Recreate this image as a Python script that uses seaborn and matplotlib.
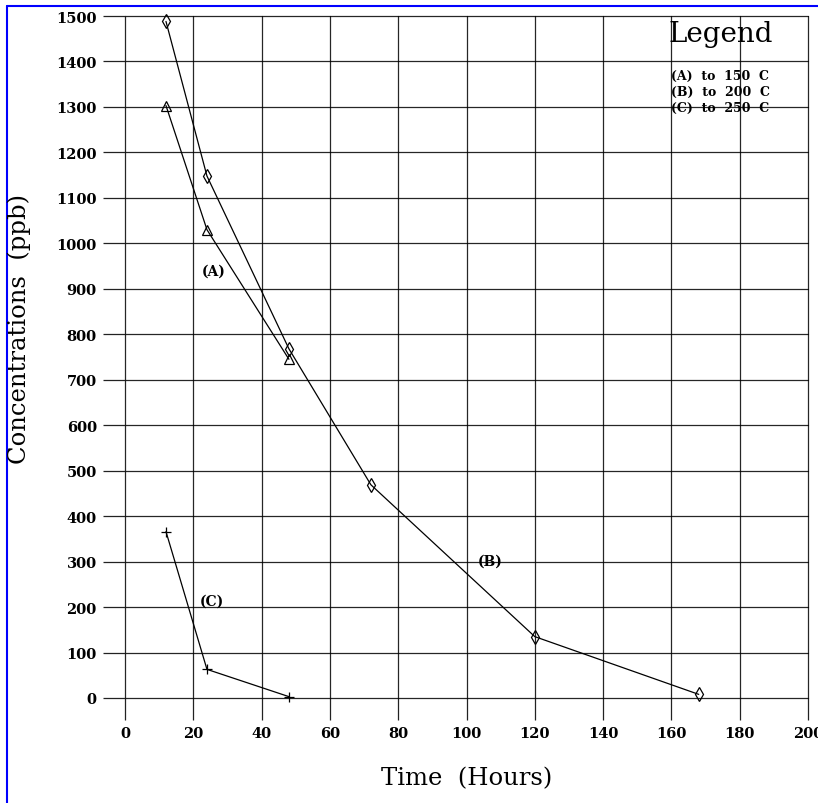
import matplotlib
matplotlib.use("Agg")
import matplotlib.pyplot as plt
import seaborn as sns
import pandas as pd
from matplotlib.lines import Line2D

sns.set_theme(style="white")
plt.rcParams['font.family'] = ['DejaVu Serif']
plt.rcParams['text.color'] = 'black'
plt.rcParams['xtick.color'] = 'black'
plt.rcParams['ytick.color'] = 'black'

# Data
time_a = [12, 24, 48]
conc_a = [1303, 1030, 745]
time_b = [12, 24, 48, 72, 120, 168]
conc_b = [1488, 1148, 768, 469, 135, 8]
time_c = [12, 24, 48]
conc_c = [366, 63, 3]

x_ticks = list(range(0, 201, 20))
y_ticks = list(range(0, 1501, 100))
legend_lines = ["(A)  to  150  C", "(B)  to  200  C", "(C)  to  250  C"]
series_labels = ["(A)", "(B)", "(C)"]
label_pos_x = [26, 107, 25.5]
label_pos_y = [940, 301, 215]

W, H = 818, 804
fig = plt.figure(figsize=(W / 100, H / 100), dpi=100)
ax = fig.add_axes([125 / W, 1 - 699 / H, (808 - 125) / W, (699 - 17) / H])

df_a = pd.DataFrame({"t": time_a, "c": conc_a})
df_b = pd.DataFrame({"t": time_b, "c": conc_b})
df_c = pd.DataFrame({"t": time_c, "c": conc_c})

common = dict(ax=ax, color="black", linewidth=0.9, markersize=7,
              markeredgewidth=0.9, zorder=3, clip_on=False)
sns.lineplot(data=df_a, x="t", y="c", marker="^", markerfacecolor="none",
             markeredgecolor="black", **common)
sns.lineplot(data=df_b, x="t", y="c", marker="d", markerfacecolor="none",
             markeredgecolor="black", **common)
sns.lineplot(data=df_c, x="t", y="c", marker="+", markeredgecolor="black", **common)

ax.set_xlim(0, 200)
ax.set_ylim(0, 1500)
ax.set_xticks(x_ticks)
ax.set_yticks(y_ticks)
ax.grid(True, color="black", linewidth=0.9, alpha=0.85)
for gl in ax.get_xgridlines() + ax.get_ygridlines():
    gl.set_clip_on(False)
for s in ax.spines.values():
    s.set_visible(False)
ax.tick_params(axis="both", bottom=True, left=True, length=16, width=0.9,
               color="#222222", labelcolor="black", labelsize=10.5, pad=4.3,
               direction="out")
for lab in ax.get_xticklabels() + ax.get_yticklabels():
    lab.set_fontweight("bold")
    lab.set_family("DejaVu Serif")

ax.set_xlabel("")
ax.set_ylabel("")
fig.text(467 / W, 1 - 779 / H, "Time  (Hours)", fontsize=17.5, ha="center",
         va="center", family="DejaVu Serif", color="black")
fig.text(19 / W, 1 - 329 / H, "Concentrations  (ppb)", fontsize=17.5, ha="center",
         va="center", rotation=90, family="DejaVu Serif", color="black")

for lbl, lx, ly in zip(series_labels, label_pos_x, label_pos_y):
    ax.text(lx, ly, lbl, fontsize=10, fontweight="bold", ha="center", va="center",
            family="DejaVu Serif", color="black")

# Legend block
fig.text(721 / W, 1 - 35 / H, "Legend", fontsize=20, ha="center", va="center",
         family="DejaVu Serif", color="black")
for i, line in enumerate(legend_lines):
    fig.text(671 / W, 1 - (76 + i * 16) / H, line, fontsize=9, fontweight="bold",
             ha="left", va="center", family="DejaVu Serif", color="black")

# Blue frame
fig.add_artist(Line2D([7 / W, 1], [1 - 7 / H, 1 - 7 / H], color="blue", linewidth=1.5,
                      transform=fig.transFigure))
fig.add_artist(Line2D([7 / W, 7 / W], [0, 1 - 7 / H], color="blue", linewidth=1.5,
                      transform=fig.transFigure))

fig.savefig("out.png", dpi=100, facecolor="white")
